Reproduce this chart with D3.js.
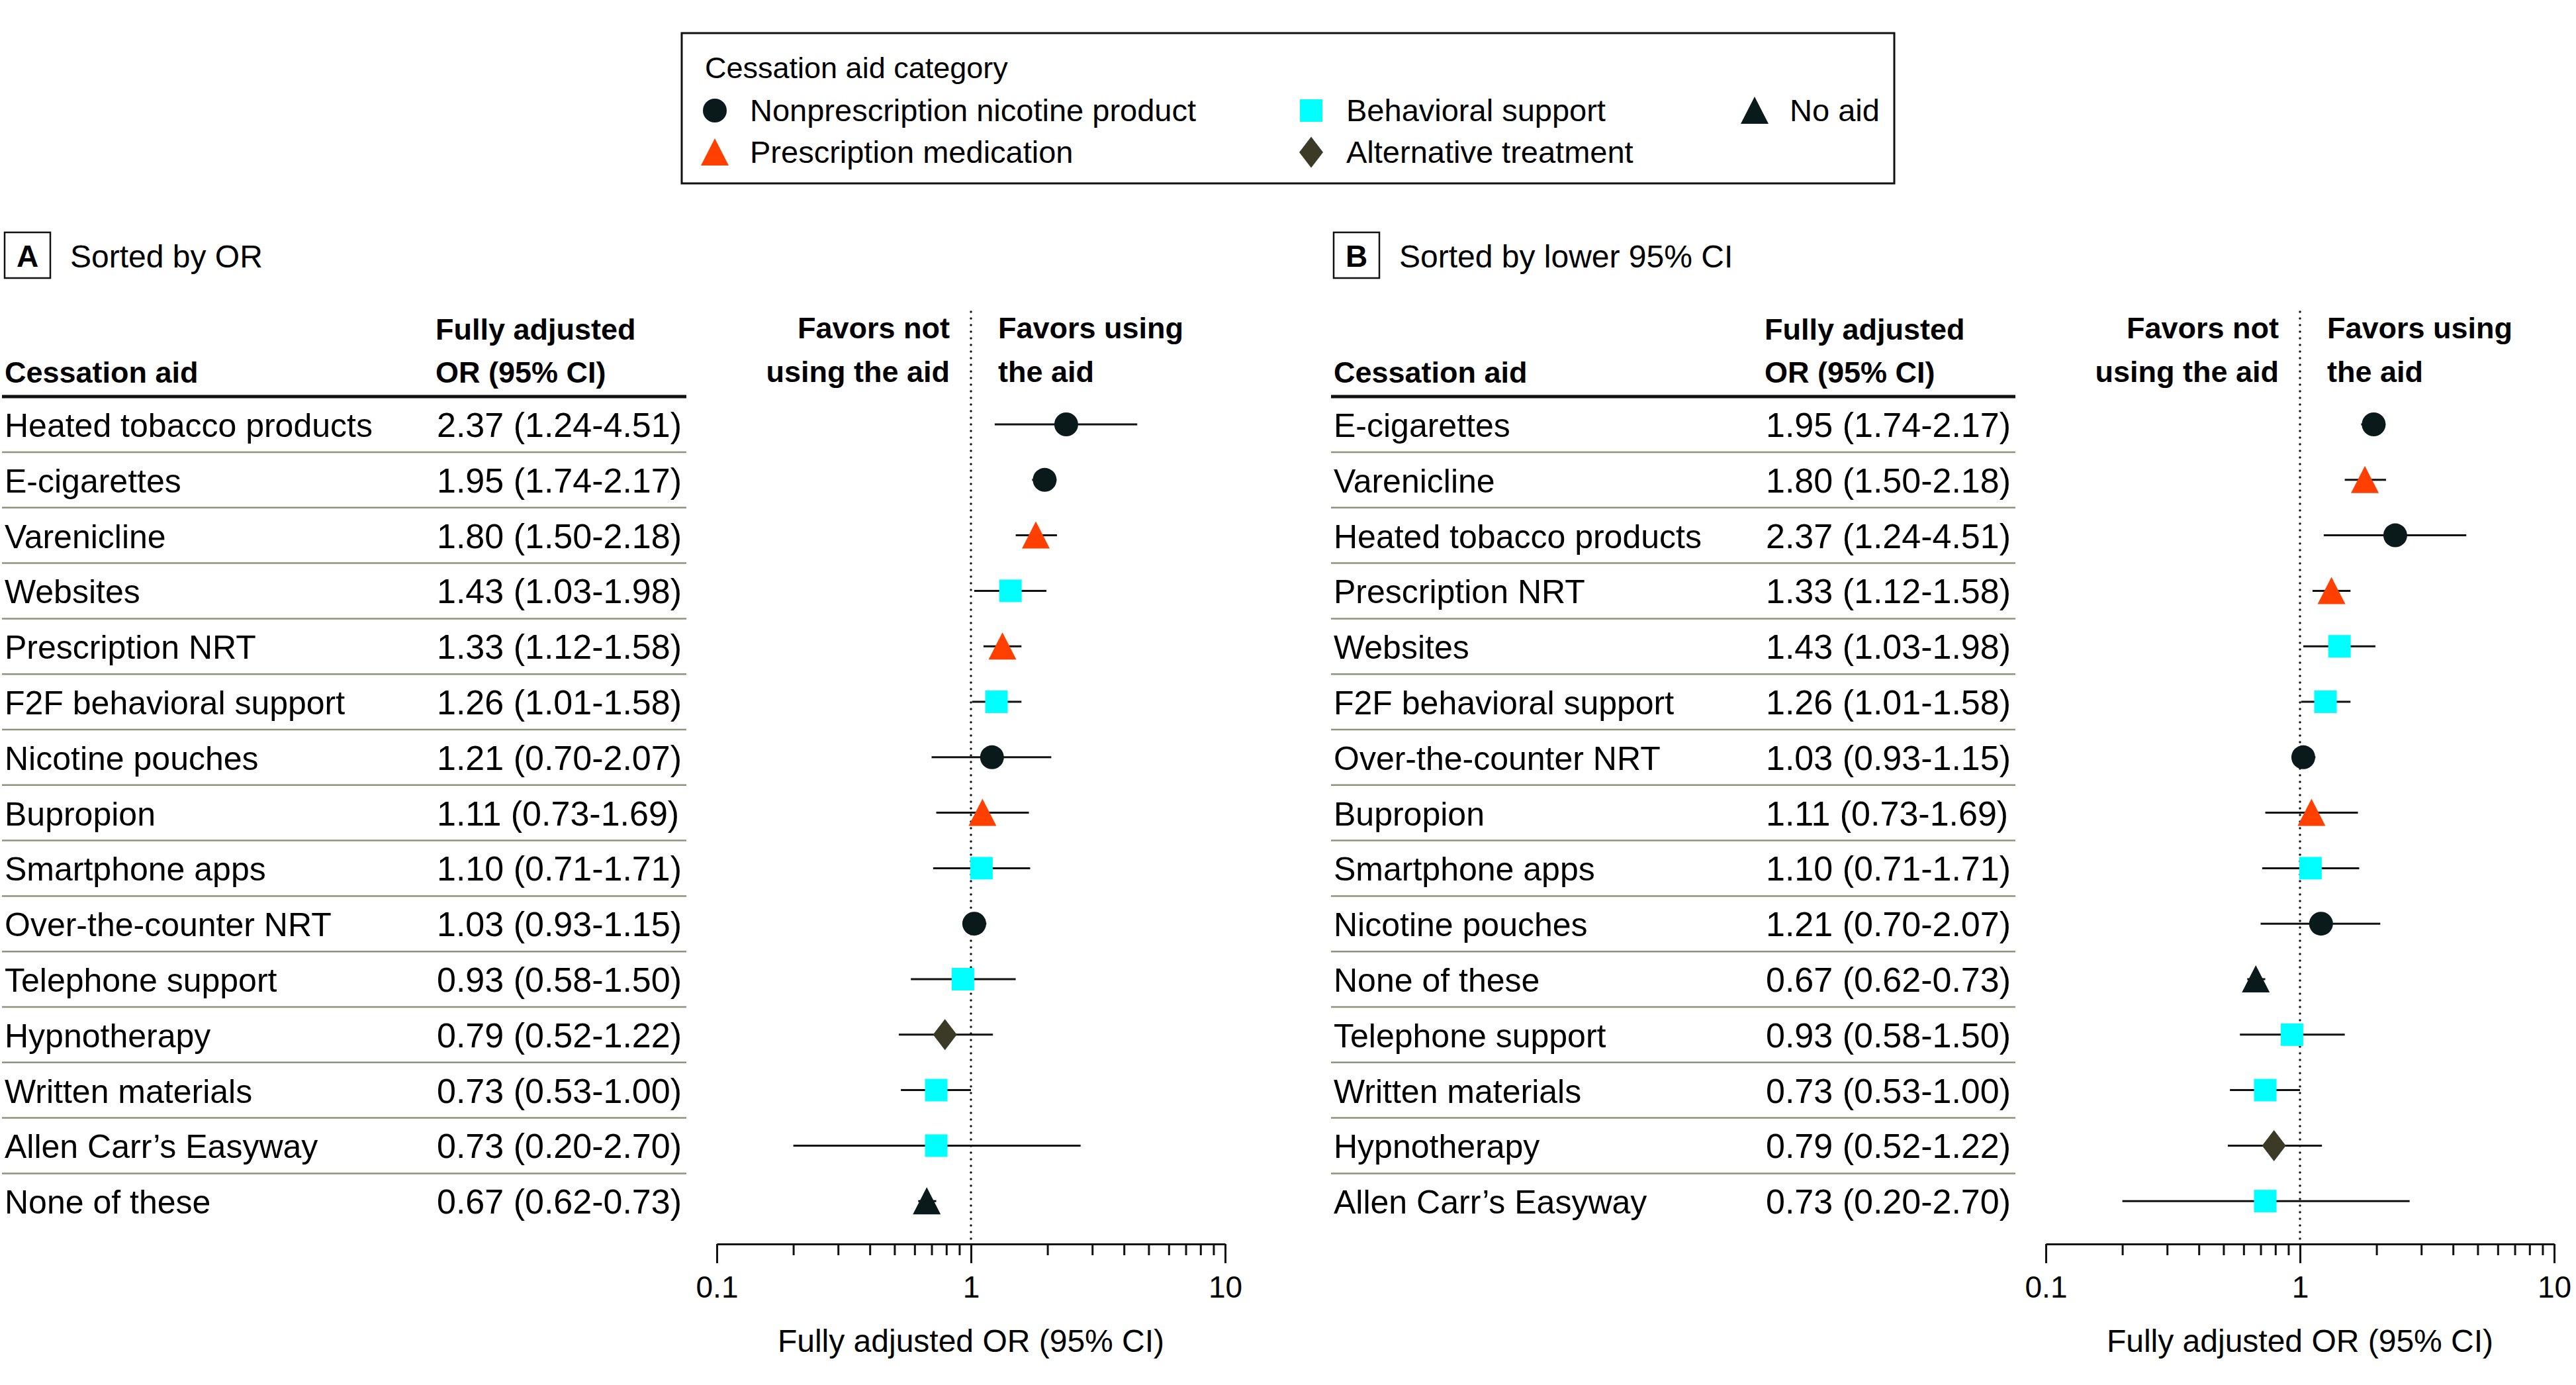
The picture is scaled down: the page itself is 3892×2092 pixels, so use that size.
<!DOCTYPE html>
<html>
<head>
<meta charset="utf-8">
<script src="https://cdn.jsdelivr.net/npm/d3@7"></script>
<style>
  body { margin: 0; background: #fff; }
  svg { display: block; font-family: "Liberation Sans", Arial, sans-serif; }
</style>
</head>
<body>
<div id="chart"></div>
<script>
// Panel A rows, sorted by OR
const aids = ["Heated tobacco products", "E-cigarettes", "Varenicline", "Websites",
  "Prescription NRT", "F2F behavioral support", "Nicotine pouches", "Bupropion",
  "Smartphone apps", "Over-the-counter NRT", "Telephone support", "Hypnotherapy",
  "Written materials", "Allen Carr\u2019s Easyway", "None of these"]
const orValues = [2.37, 1.95, 1.80, 1.43, 1.33, 1.26, 1.21, 1.11, 1.10, 1.03, 0.93, 0.79, 0.73, 0.73, 0.67]
const ciLow = [1.24, 1.74, 1.50, 1.03, 1.12, 1.01, 0.70, 0.73, 0.71, 0.93, 0.58, 0.52, 0.53, 0.20, 0.62]
const ciHigh = [4.51, 2.17, 2.18, 1.98, 1.58, 1.58, 2.07, 1.69, 1.71, 1.15, 1.50, 1.22, 1.00, 2.70, 0.73]
// 0 nonprescription, 1 prescription, 2 behavioral, 3 alternative, 4 no aid
const aidCategory = [0, 0, 1, 2, 1, 2, 0, 1, 2, 0, 2, 3, 2, 2, 4]

// Panel B order, sorted by lower 95% CI
const orderB = ["E-cigarettes", "Varenicline", "Heated tobacco products", "Prescription NRT",
  "Websites", "F2F behavioral support", "Over-the-counter NRT", "Bupropion", "Smartphone apps",
  "Nicotine pouches", "None of these", "Telephone support", "Written materials", "Hypnotherapy",
  "Allen Carr\u2019s Easyway"]

const categories = ["Nonprescription nicotine product", "Prescription medication",
  "Behavioral support", "Alternative treatment", "No aid"]
const catColors = ["#0a1a1a", "#ff4000", "#00ffff", "#3a3a26", "#0a1a1a"]
const catShapes = ["circle", "triangle", "square", "diamond", "triangle"]

const xTicks = [0.1, 0.2, 0.3, 0.4, 0.5, 0.6, 0.7, 0.8, 0.9, 1, 2, 3, 4, 5, 6, 7, 8, 9, 10]
const xTickLabels = {0.1: "0.1", 1: "1", 10: "10"}

const width = 3892, height = 2092
const rows = aids.map((name, i) => ({name, or: orValues[i], lo: ciLow[i], hi: ciHigh[i], cat: aidCategory[i]}))
const rowsB = orderB.map(n => rows.find(r => r.name === n))

const svg = d3.select("#chart").append("svg")
    .attr("width", width)
    .attr("height", height)

svg.append("rect").attr("width", width).attr("height", height).attr("fill", "#fff")

const fmt = d3.format(".2f")

function marker(g, cat) {
  const shape = catShapes[cat], color = catColors[cat]
  if (shape === "circle") {
    g.append("circle").attr("r", 18).attr("fill", color)
  } else if (shape === "square") {
    g.append("rect").attr("x", -17).attr("y", -17).attr("width", 34).attr("height", 34).attr("fill", color)
  } else if (shape === "triangle") {
    g.append("path").attr("d", "M0,-21L21,20L-21,20Z").attr("fill", color)
  } else {
    g.append("path").attr("d", "M0,-23.5L18,0L0,23.5L-18,0Z").attr("fill", color)
  }
}

// Legend
const legend = svg.append("g")
legend.append("rect")
    .attr("x", 1030).attr("y", 50).attr("width", 1832).attr("height", 227)
    .attr("fill", "none").attr("stroke", "#111").attr("stroke-width", 3)
legend.append("text")
    .attr("x", 1065).attr("y", 118)
    .attr("font-size", 45)
    .text("Cessation aid category")
const legendPos = [[1080, 167], [1080, 230], [1981, 167], [1981, 230], [2651, 167]]
categories.forEach((c, i) => {
  const [lx, ly] = legendPos[i]
  const g = legend.append("g").attr("transform", `translate(${lx},${ly})`)
  marker(g, i)
  legend.append("text")
      .attr("x", lx + 53).attr("y", ly + 16)
      .attr("font-size", 47)
      .text(c)
})

function drawPanel(dx, letter, title, data) {
  const g = svg.append("g").attr("transform", `translate(${dx},0)`)

  const x = d3.scaleLog().domain([0.1, 10]).range([1083, 1851])
  const y = d3.scaleLinear().domain([0, data.length - 1]).range([641, 641 + 83.8 * (data.length - 1)])

  // panel label
  g.append("rect")
      .attr("x", 7).attr("y", 351).attr("width", 69).attr("height", 69)
      .attr("fill", "none").attr("stroke", "#111").attr("stroke-width", 2.5)
  g.append("text")
      .attr("x", 41.5).attr("y", 403)
      .attr("text-anchor", "middle")
      .attr("font-size", 46).attr("font-weight", "bold")
      .text(letter)
  g.append("text")
      .attr("x", 106).attr("y", 404)
      .attr("font-size", 48)
      .text(title)

  // column headers
  const hdr = g.append("g").attr("font-size", 45).attr("font-weight", "bold")
  hdr.append("text").attr("x", 7).attr("y", 578).text("Cessation aid")
  hdr.append("text").attr("x", 658).attr("y", 513).text("Fully adjusted")
  hdr.append("text").attr("x", 658).attr("y", 578).text("OR (95% CI)")
  hdr.append("text").attr("x", 1435).attr("y", 511).attr("text-anchor", "end").text("Favors not")
  hdr.append("text").attr("x", 1435).attr("y", 577).attr("text-anchor", "end").text("using the aid")
  hdr.append("text").attr("x", 1508).attr("y", 511).text("Favors using")
  hdr.append("text").attr("x", 1508).attr("y", 577).text("the aid")

  g.append("line")
      .attr("x1", 3).attr("x2", 1037).attr("y1", 599).attr("y2", 599)
      .attr("stroke", "#111").attr("stroke-width", 5)

  // row separators
  g.selectAll("line.sep")
    .data(data.slice(0, -1))
    .enter().append("line")
      .attr("class", "sep")
      .attr("x1", 3).attr("x2", 1037)
      .attr("y1", (d, i) => y(i) + 42).attr("y2", (d, i) => y(i) + 42)
      .attr("stroke", "#8c9479").attr("stroke-width", 2.5)

  // table text
  g.selectAll("text.name")
    .data(data)
    .enter().append("text")
      .attr("class", "name")
      .attr("x", 7).attr("y", (d, i) => y(i) + 19)
      .attr("font-size", 50)
      .text(d => d.name)

  g.selectAll("text.val")
    .data(data)
    .enter().append("text")
      .attr("class", "val")
      .attr("x", 660).attr("y", (d, i) => y(i) + 19)
      .attr("font-size", 52)
      .text(d => `${fmt(d.or)} (${fmt(d.lo)}-${fmt(d.hi)})`)

  // reference line at OR = 1
  g.append("line")
      .attr("x1", x(1)).attr("x2", x(1))
      .attr("y1", 471).attr("y2", 1879)
      .attr("stroke", "#111").attr("stroke-width", 3.5)
      .attr("stroke-linecap", "round")
      .attr("stroke-dasharray", "0 10")

  // axis
  const axis = g.append("g")
      .attr("transform", "translate(0,1879)")
      .call(d3.axisBottom(x)
        .tickValues(xTicks)
        .tickSize(17)
        .tickSizeOuter(0)
        .tickFormat(d => xTickLabels[d] || ""))
  axis.select(".domain").attr("stroke", "#111").attr("stroke-width", 3)
  axis.selectAll(".tick line").attr("stroke", "#111").attr("stroke-width", 3)
    .filter(d => xTickLabels[d]).attr("y2", 29)
  axis.selectAll(".tick text")
      .attr("y", 81).attr("dy", null)
      .attr("font-size", 46)
      .attr("font-family", "Liberation Sans, Arial, sans-serif")
      .attr("fill", "#000")

  g.append("text")
      .attr("x", x(1)).attr("y", 2042)
      .attr("text-anchor", "middle")
      .attr("font-size", 48)
      .text("Fully adjusted OR (95% CI)")

  // CI lines and point markers
  g.selectAll("line.ci")
    .data(data)
    .enter().append("line")
      .attr("class", "ci")
      .attr("x1", d => x(d.lo)).attr("x2", d => x(d.hi))
      .attr("y1", (d, i) => y(i)).attr("y2", (d, i) => y(i))
      .attr("stroke", "#111").attr("stroke-width", 3)

  g.selectAll("g.pt")
    .data(data)
    .enter().append("g")
      .attr("class", "pt")
      .attr("transform", (d, i) => `translate(${x(d.or)},${y(i)})`)
      .each(function (d) { marker(d3.select(this), d.cat) })
}

drawPanel(0, "A", "Sorted by OR", rows)
drawPanel(2008, "B", "Sorted by lower 95% CI", rowsB)
</script>
</body>
</html>
